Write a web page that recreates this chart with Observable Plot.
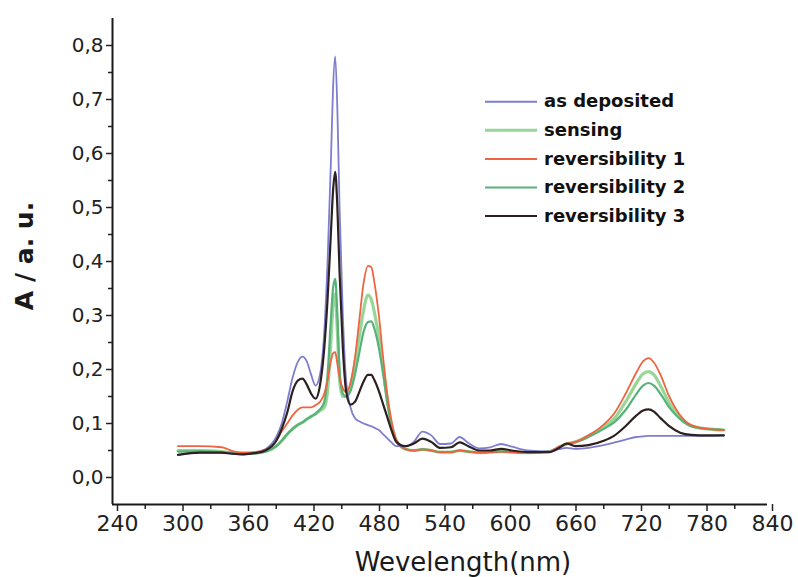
<!DOCTYPE html>
<html>
<head>
<meta charset="utf-8">
<script src="https://cdn.jsdelivr.net/npm/d3@7"></script>
<script src="https://cdn.jsdelivr.net/npm/@observablehq/plot@0.6"></script>
<style>
  html, body { margin: 0; padding: 0; background: #fff; }
  #chart { width: 798px; height: 577px; }
</style>
</head>
<body>
<div id="chart"></div>
<script>
// Wavelength grid (nm)
const wavelengths = [300, 320, 340, 350, 360, 370, 380, 390, 395, 400,
  405, 410, 414, 418, 422, 426, 430, 434, 437, 440,
  442, 444, 446, 448, 451, 454, 458, 462, 466, 470,
  474, 477, 480, 484, 488, 492, 496, 500, 508, 516,
  524, 532, 540, 550, 558, 566, 576, 586, 596, 606,
  620, 640, 650, 656, 664, 676, 690, 700, 710, 720,
  726, 731, 736, 742, 750, 760, 770, 785, 800];

const asDeposited = [0.042, 0.046, 0.046, 0.044, 0.043, 0.045, 0.052, 0.075, 0.100, 0.140,
  0.185, 0.215, 0.224, 0.215, 0.190, 0.170, 0.190, 0.270, 0.400, 0.580,
  0.720, 0.780, 0.680, 0.500, 0.300, 0.180, 0.130, 0.110, 0.104, 0.100,
  0.097, 0.095, 0.092, 0.088, 0.080, 0.072, 0.064, 0.058, 0.058, 0.066,
  0.085, 0.078, 0.062, 0.063, 0.075, 0.064, 0.054, 0.056, 0.062, 0.057,
  0.050, 0.048, 0.053, 0.055, 0.053, 0.055, 0.060, 0.065, 0.070, 0.075,
  0.076, 0.077, 0.077, 0.077, 0.077, 0.077, 0.077, 0.077, 0.078];

const sensing = [0.050, 0.050, 0.048, 0.046, 0.045, 0.045, 0.048, 0.058, 0.068, 0.080,
  0.090, 0.098, 0.102, 0.108, 0.113, 0.118, 0.124, 0.130, 0.160, 0.250,
  0.320, 0.340, 0.270, 0.180, 0.150, 0.150, 0.170, 0.210, 0.260, 0.310,
  0.338, 0.330, 0.305, 0.260, 0.200, 0.140, 0.095, 0.068, 0.053, 0.050,
  0.052, 0.050, 0.047, 0.047, 0.050, 0.048, 0.046, 0.047, 0.048, 0.047,
  0.046, 0.048, 0.057, 0.062, 0.066, 0.077, 0.094, 0.110, 0.140, 0.175,
  0.192, 0.196, 0.190, 0.170, 0.138, 0.110, 0.096, 0.090, 0.088];

const reversibility1 = [0.058, 0.058, 0.056, 0.049, 0.046, 0.047, 0.052, 0.068, 0.085, 0.100,
  0.115, 0.126, 0.130, 0.130, 0.130, 0.134, 0.140, 0.155, 0.180, 0.215,
  0.230, 0.232, 0.210, 0.185, 0.165, 0.158, 0.175, 0.220, 0.290, 0.360,
  0.392, 0.390, 0.360, 0.300, 0.220, 0.150, 0.100, 0.070, 0.053, 0.050,
  0.052, 0.050, 0.047, 0.047, 0.050, 0.048, 0.046, 0.047, 0.048, 0.047,
  0.046, 0.048, 0.058, 0.062, 0.066, 0.078, 0.098, 0.120, 0.155, 0.195,
  0.215, 0.221, 0.213, 0.190, 0.150, 0.115, 0.097, 0.090, 0.088];

const reversibility2 = [0.048, 0.049, 0.047, 0.045, 0.044, 0.045, 0.048, 0.058, 0.068, 0.080,
  0.090, 0.098, 0.102, 0.108, 0.113, 0.118, 0.126, 0.140, 0.190, 0.290,
  0.350, 0.368, 0.300, 0.200, 0.155, 0.150, 0.160, 0.190, 0.230, 0.270,
  0.288, 0.289, 0.275, 0.240, 0.190, 0.135, 0.093, 0.068, 0.053, 0.050,
  0.052, 0.050, 0.047, 0.047, 0.050, 0.048, 0.046, 0.047, 0.048, 0.047,
  0.046, 0.048, 0.057, 0.062, 0.065, 0.075, 0.090, 0.103, 0.125, 0.155,
  0.170, 0.175, 0.170, 0.155, 0.130, 0.108, 0.095, 0.090, 0.088];

const reversibility3 = [0.042, 0.046, 0.046, 0.044, 0.043, 0.045, 0.050, 0.068, 0.090, 0.120,
  0.160, 0.180, 0.183, 0.172, 0.155, 0.146, 0.170, 0.240, 0.330, 0.450,
  0.530, 0.566, 0.500, 0.380, 0.240, 0.160, 0.135, 0.140, 0.158, 0.178,
  0.190, 0.190, 0.180, 0.160, 0.135, 0.110, 0.085, 0.066, 0.058, 0.063,
  0.072, 0.066, 0.055, 0.056, 0.065, 0.058, 0.050, 0.050, 0.053, 0.050,
  0.047, 0.047, 0.056, 0.063, 0.058, 0.060, 0.068, 0.078, 0.095, 0.115,
  0.124, 0.126, 0.122, 0.110, 0.095, 0.083, 0.079, 0.078, 0.078];

const seriesNames = ["as deposited", "sensing", "reversibility 1", "reversibility 2", "reversibility 3"];
const seriesValues = [asDeposited, sensing, reversibility1, reversibility2, reversibility3];
const seriesColors = ["#7e7ecf", "#98d698", "#ee6440", "#56b276", "#2c2020"];
const seriesWidths = [1.8, 3.2, 1.8, 2.2, 2.2];
const drawOrder = [1, 3, 2, 0, 4];

const xTicks = [240, 300, 360, 420, 480, 540, 600, 660, 720, 780, 840];
const xMinorTicks = [270, 330, 390, 450, 510, 570, 630, 690, 750, 810];
const yTicks = [0, 0.1, 0.2, 0.3, 0.4, 0.5, 0.6, 0.7, 0.8];
const yMinorTicks = [0.05, 0.15, 0.25, 0.35, 0.45, 0.55, 0.65, 0.75];

const xDomain = [240, 840];
const yDomain = [-0.05, 0.85];

const rows = [];
seriesNames.forEach((name, i) => {
  wavelengths.forEach((w, j) => rows.push({ series: name, w, a: seriesValues[i][j] }));
});

const fmtY = d => d.toFixed(1).replace(".", ",");

const lineMarks = drawOrder.map(i =>
  Plot.line(rows.filter(r => r.series === seriesNames[i]), {
    x: "w", y: "a", stroke: seriesColors[i], strokeWidth: seriesWidths[i],
    curve: "monotone-x", strokeLinejoin: "round"
  })
);

const plot = Plot.plot({
  width: 798,
  height: 577,
  marginLeft: 112,
  marginRight: 31,
  marginTop: 18,
  marginBottom: 73,
  style: { fontFamily: "DejaVu Sans", background: "#fff", color: "#222" },
  x: { domain: xDomain, label: null },
  y: { domain: yDomain, label: null },
  marks: [
    ...lineMarks,
    Plot.axisY(yTicks, { tickFormat: fmtY, tickSize: 6, tickPadding: 3, fontSize: 20, strokeWidth: 1.5, stroke: "#222", fill: "#222", label: null }),
    Plot.axisY(yMinorTicks, { tickSize: 4, strokeWidth: 1.5, stroke: "#222", text: null, label: null }),
    Plot.axisX(xTicks, { tickFormat: d => String(d), tickSize: 7, tickPadding: 4, fontSize: 22, dx: 5, strokeWidth: 1.5, stroke: "#222", fill: "#222", label: null }),
    Plot.axisX(xMinorTicks, { tickSize: 5, strokeWidth: 1.5, stroke: "#222", text: null, label: null }),
    Plot.ruleX([xDomain[0]], { y1: yDomain[0], y2: yDomain[1], stroke: "#1a1a1a", strokeWidth: 2 }),
    Plot.ruleY([yDomain[0]], { x1: xDomain[0], x2: xDomain[1], stroke: "#1a1a1a", strokeWidth: 2 })
  ]
});

document.getElementById("chart").appendChild(plot);

// Titles and legend
const svg = d3.select(plot);
svg.append("text")
  .attr("x", 463).attr("y", 571)
  .attr("text-anchor", "middle")
  .attr("font-family", "DejaVu Sans")
  .attr("font-size", 26)
  .attr("fill", "#1a1a1a")
  .text("Wevelength(nm)");

svg.append("text")
  .attr("transform", "translate(33,256) rotate(-90)")
  .attr("text-anchor", "middle")
  .attr("font-family", "DejaVu Sans")
  .attr("font-size", 25)
  .attr("font-weight", "bold")
  .attr("fill", "#1a1a1a")
  .text("A / a. u.");

const legend = svg.append("g").attr("text-anchor", "start");
seriesNames.forEach((name, i) => {
  const y = 101.7 + i * 28.6;
  legend.append("line")
    .attr("x1", 485).attr("x2", 537).attr("y1", y).attr("y2", y)
    .attr("stroke", seriesColors[i]).attr("stroke-width", i === 1 ? 3 : 2);
  legend.append("text")
    .attr("x", 544).attr("y", y).attr("dy", "0.32em")
    .attr("text-anchor", "start")
    .attr("font-family", "DejaVu Sans")
    .attr("font-size", 18)
    .attr("font-weight", "bold")
    .attr("fill", "#111")
    .text(name);
});
</script>
</body>
</html>
